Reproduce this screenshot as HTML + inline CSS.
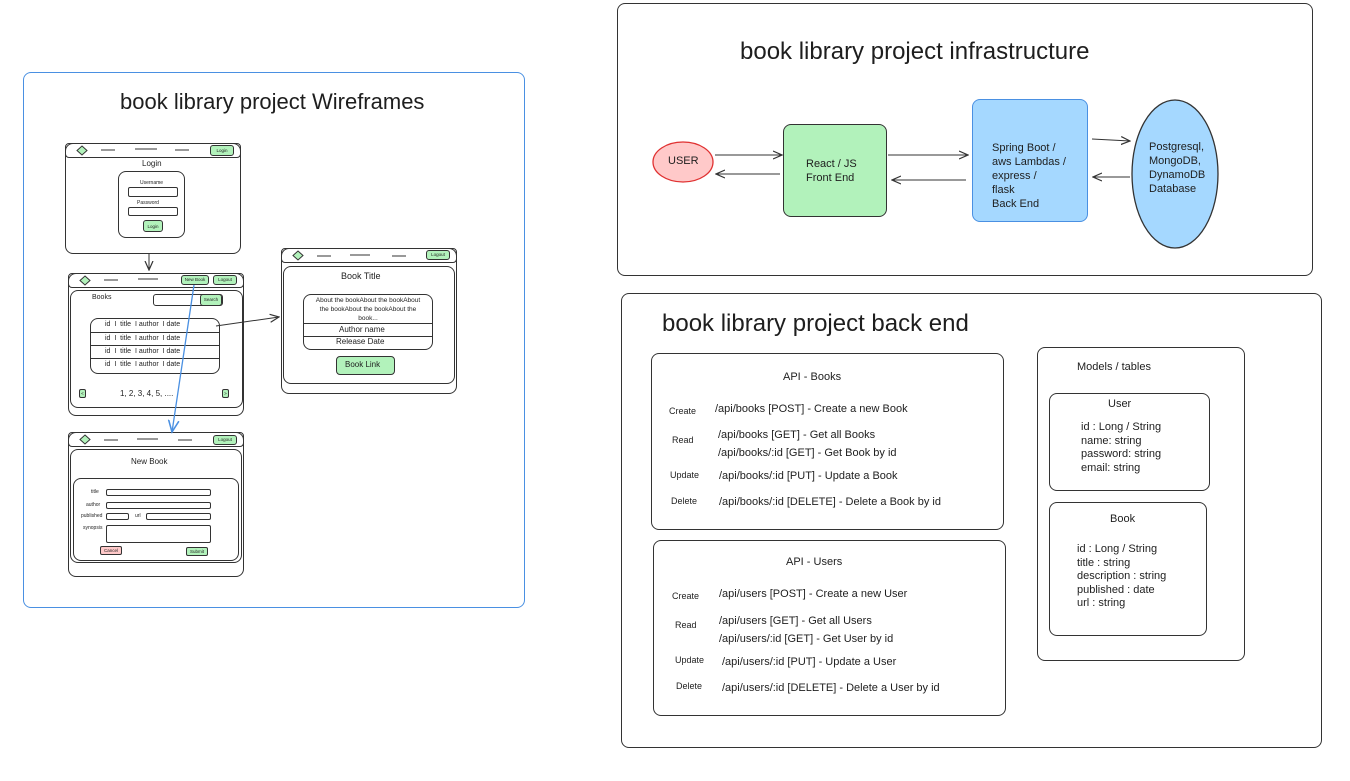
<!DOCTYPE html>
<html><head><meta charset="utf-8"><style>
body{margin:0;width:1350px;height:781px;background:#fff;position:relative;overflow:hidden;font-family:"Liberation Sans",sans-serif;color:#1e1e1e}
.b{position:absolute;border:1.3px solid #333;border-radius:8px;box-sizing:border-box}
.t{position:absolute;white-space:nowrap}
.g{background:#b2f2bb}
.s{font-size:11px}
.xs{font-size:5px}
.bl{font-size:4.5px;text-align:center;line-height:9px}
</style></head><body>
<svg width="1350" height="781" style="position:absolute;left:0;top:0">
<defs><marker id="a" markerWidth="10" markerHeight="10" refX="9" refY="5" orient="auto"><path d="M0,1 L9,5 L0,9" fill="none" stroke="#333" stroke-width="1.2"/></marker>
<marker id="ab" markerWidth="10" markerHeight="10" refX="9" refY="5" orient="auto"><path d="M0,1 L9,5 L0,9" fill="none" stroke="#4a90e2" stroke-width="1.2"/></marker></defs>
<line x1="149" y1="254" x2="149" y2="270" stroke="#333" marker-end="url(#a)"/>
<line x1="216" y1="326" x2="279" y2="317" stroke="#333" marker-end="url(#a)"/>
<line x1="715" y1="155" x2="782" y2="155" stroke="#333" marker-end="url(#a)"/>
<line x1="780" y1="174" x2="716" y2="174" stroke="#333" marker-end="url(#a)"/>
<line x1="888" y1="155" x2="968" y2="155" stroke="#333" marker-end="url(#a)"/>
<line x1="966" y1="180" x2="892" y2="180" stroke="#333" marker-end="url(#a)"/>
<line x1="1092" y1="139" x2="1130" y2="141" stroke="#333" marker-end="url(#a)"/>
<line x1="1130" y1="177" x2="1093" y2="177" stroke="#333" marker-end="url(#a)"/>
<ellipse cx="683" cy="162" rx="30" ry="20" fill="#ffc9c9" stroke="#e03131" stroke-width="1.3"/>
<ellipse cx="1175" cy="174" rx="43" ry="74" fill="#a5d8ff" stroke="#333" stroke-width="1.3"/>
</svg>

<!-- wireframes -->
<div class="b" style="left:23px;top:72px;width:502px;height:536px;border-color:#4a90e2"></div>
<div class="t" style="left:120px;top:89px;font-size:22px">book library project Wireframes</div>

<div class="b" style="left:65px;top:143px;width:176px;height:111px"></div>
<div class="b" style="left:65px;top:143px;width:176px;height:15px;border-radius:4px"></div>
<div class="b g bl" style="left:210px;top:145px;width:24px;height:11px;border-radius:3px">Login</div>
<div class="t" style="left:142px;top:159px;font-size:8px">Login</div>
<div class="b" style="left:118px;top:171px;width:67px;height:67px"></div>
<div class="t xs" style="left:140px;top:180px">Username</div>
<div class="b" style="left:128px;top:187px;width:50px;height:10px;border-radius:2px"></div>
<div class="t xs" style="left:137px;top:200px">Password</div>
<div class="b" style="left:128px;top:207px;width:50px;height:9px;border-radius:2px"></div>
<div class="b g bl" style="left:143px;top:220px;width:20px;height:12px;border-radius:3px;line-height:11px">Login</div>

<div class="b" style="left:68px;top:273px;width:176px;height:143px"></div>
<div class="b" style="left:68px;top:273px;width:176px;height:15px;border-radius:4px"></div>
<div class="b g bl" style="left:181px;top:275px;width:28px;height:10px;border-radius:3px;line-height:8px">New Book</div>
<div class="b g bl" style="left:213px;top:275px;width:24px;height:10px;border-radius:3px;line-height:8px">Logout</div>
<div class="b" style="left:70px;top:290px;width:173px;height:118px"></div>
<div class="t" style="left:92px;top:294px;font-size:7px">Books</div>
<div class="b" style="left:153px;top:294px;width:70px;height:12px;border-radius:3px"></div>
<div class="b g bl" style="left:200px;top:294px;width:22px;height:12px;border-radius:3px;line-height:10px">Search</div>
<div class="b" style="left:90px;top:318px;width:130px;height:56px"></div>
<div style="position:absolute;left:90px;top:332px;width:130px;border-top:1px solid #333"></div>
<div style="position:absolute;left:90px;top:345px;width:130px;border-top:1px solid #333"></div>
<div style="position:absolute;left:90px;top:358px;width:130px;border-top:1px solid #333"></div>
<div class="t" style="left:105px;top:321px;font-size:7px">id &nbsp;I&nbsp; title &nbsp;I author &nbsp;I date</div>
<div class="t" style="left:105px;top:335px;font-size:7px">id &nbsp;I&nbsp; title &nbsp;I author &nbsp;I date</div>
<div class="t" style="left:105px;top:348px;font-size:7px">id &nbsp;I&nbsp; title &nbsp;I author &nbsp;I date</div>
<div class="t" style="left:105px;top:361px;font-size:7px">id &nbsp;I&nbsp; title &nbsp;I author &nbsp;I date</div>
<div class="b g bl" style="left:79px;top:389px;width:7px;height:9px;border-radius:2px;line-height:7px">&lt;</div>
<div class="b g bl" style="left:222px;top:389px;width:7px;height:9px;border-radius:2px;line-height:7px">&gt;</div>
<div class="t" style="left:120px;top:389px;font-size:8px">1, 2, 3, 4, 5, ....</div>

<div class="b" style="left:281px;top:248px;width:176px;height:146px"></div>
<div class="b" style="left:281px;top:248px;width:176px;height:15px;border-radius:4px"></div>
<div class="b g bl" style="left:426px;top:250px;width:24px;height:10px;border-radius:3px;line-height:8px">Logout</div>
<div class="b" style="left:283px;top:266px;width:172px;height:118px"></div>
<div class="t" style="left:341px;top:271px;font-size:9px">Book Title</div>
<div class="b" style="left:303px;top:294px;width:130px;height:56px"></div>
<div style="position:absolute;left:303px;top:323px;width:130px;border-top:1px solid #333"></div>
<div style="position:absolute;left:303px;top:336px;width:130px;border-top:1px solid #333"></div>
<div class="t" style="left:313px;top:296px;font-size:6.5px;line-height:9px;text-align:center;width:110px;white-space:normal">About the bookAbout the bookAbout the bookAbout the bookAbout the book...</div>
<div class="t" style="left:339px;top:325px;font-size:8px">Author name</div>
<div class="t" style="left:336px;top:337px;font-size:8px">Release Date</div>
<div class="b g" style="left:336px;top:356px;width:59px;height:19px;border-radius:4px"></div>
<div class="t" style="left:345px;top:360px;font-size:8px">Book Link</div>

<div class="b" style="left:68px;top:432px;width:176px;height:145px"></div>
<div class="b" style="left:68px;top:432px;width:176px;height:15px;border-radius:4px"></div>
<div class="b g bl" style="left:213px;top:435px;width:24px;height:10px;border-radius:3px;line-height:8px">Logout</div>
<div class="b" style="left:70px;top:449px;width:172px;height:114px"></div>
<div class="t" style="left:131px;top:457px;font-size:8px">New Book</div>
<div class="b" style="left:73px;top:478px;width:166px;height:83px"></div>
<div class="t xs" style="left:91px;top:489px">title</div>
<div class="t xs" style="left:86px;top:502px">author</div>
<div class="t xs" style="left:81px;top:513px">published</div>
<div class="t xs" style="left:135px;top:513px">url</div>
<div class="t xs" style="left:83px;top:525px">synopsis</div>
<div class="b" style="left:106px;top:489px;width:105px;height:7px;border-radius:2px"></div>
<div class="b" style="left:106px;top:502px;width:105px;height:7px;border-radius:2px"></div>
<div class="b" style="left:106px;top:513px;width:23px;height:7px;border-radius:2px"></div>
<div class="b" style="left:146px;top:513px;width:65px;height:7px;border-radius:2px"></div>
<div class="b" style="left:106px;top:525px;width:105px;height:18px;border-radius:2px"></div>
<div class="b bl" style="left:100px;top:546px;width:22px;height:9px;border-radius:2px;background:#ffc9c9;line-height:7px">Cancel</div>
<div class="b g bl" style="left:186px;top:547px;width:22px;height:9px;border-radius:2px;line-height:7px">Submit</div>
<svg width="1350" height="781" style="position:absolute;left:0;top:0">
<g fill="#b2f2bb" stroke="#333" stroke-width="1">
<path d="M82,146 L87,150.5 L82,155 L77,150.5Z"/>
<path d="M85,276 L90,280.5 L85,285 L80,280.5Z"/>
<path d="M298,251 L303,255.5 L298,260 L293,255.5Z"/>
<path d="M85,435 L90,439.5 L85,444 L80,439.5Z"/>
</g>
<g stroke="#333" stroke-width="1">
<line x1="101" y1="150" x2="115" y2="150"/><line x1="135" y1="149" x2="157" y2="149"/><line x1="175" y1="150" x2="189" y2="150"/>
<line x1="104" y1="280" x2="118" y2="280"/><line x1="138" y1="279" x2="158" y2="279"/>
<line x1="317" y1="256" x2="331" y2="256"/><line x1="350" y1="255" x2="370" y2="255"/><line x1="392" y1="256" x2="406" y2="256"/>
<line x1="104" y1="440" x2="118" y2="440"/><line x1="137" y1="439" x2="158" y2="439"/><line x1="178" y1="440" x2="192" y2="440"/>
</g>
<line x1="194" y1="285" x2="172" y2="432" stroke="#4a90e2" stroke-width="1.3" marker-end="url(#ab)"/></svg>

<!-- infrastructure -->
<div class="b" style="left:617px;top:3px;width:696px;height:273px"></div>
<div class="t" style="left:740px;top:38px;font-size:24px">book library project infrastructure</div>
<div class="t s" style="left:668px;top:155px">USER</div>
<div class="b g" style="left:783px;top:124px;width:104px;height:93px"></div>
<div class="t s" style="left:806px;top:157px;line-height:14px">React / JS<br>Front End</div>
<div class="b" style="left:972px;top:99px;width:116px;height:123px;background:#a5d8ff;border-color:#4a90e2"></div>
<div class="t s" style="left:992px;top:141px;line-height:14px">Spring Boot /<br>aws Lambdas /<br>express /<br>flask<br>Back End</div>
<div class="t s" style="left:1149px;top:140px;line-height:14px">Postgresql,<br>MongoDB,<br>DynamoDB<br>Database</div>

<!-- back end -->
<div class="b" style="left:621px;top:293px;width:701px;height:455px"></div>
<div class="t" style="left:662px;top:310px;font-size:24px">book library project back end</div>

<div class="b" style="left:651px;top:353px;width:353px;height:177px"></div>
<div class="t s" style="left:783px;top:371px">API - Books</div>
<div class="t" style="left:669px;top:406px;font-size:9px">Create</div>
<div class="t s" style="left:715px;top:403px">/api/books [POST] - Create a new Book</div>
<div class="t" style="left:672px;top:435px;font-size:9px">Read</div>
<div class="t s" style="left:718px;top:429px">/api/books [GET] - Get all Books</div>
<div class="t s" style="left:718px;top:447px">/api/books/:id [GET] - Get Book by id</div>
<div class="t" style="left:670px;top:470px;font-size:9px">Update</div>
<div class="t s" style="left:719px;top:470px">/api/books/:id [PUT] - Update a Book</div>
<div class="t" style="left:671px;top:496px;font-size:9px">Delete</div>
<div class="t s" style="left:719px;top:496px">/api/books/:id [DELETE] - Delete a Book by id</div>

<div class="b" style="left:653px;top:540px;width:353px;height:176px"></div>
<div class="t s" style="left:786px;top:556px">API - Users</div>
<div class="t" style="left:672px;top:591px;font-size:9px">Create</div>
<div class="t s" style="left:719px;top:588px">/api/users [POST] - Create a new User</div>
<div class="t" style="left:675px;top:620px;font-size:9px">Read</div>
<div class="t s" style="left:719px;top:615px">/api/users [GET] - Get all Users</div>
<div class="t s" style="left:719px;top:633px">/api/users/:id [GET] - Get User by id</div>
<div class="t" style="left:675px;top:655px;font-size:9px">Update</div>
<div class="t s" style="left:722px;top:656px">/api/users/:id [PUT] - Update a User</div>
<div class="t" style="left:676px;top:681px;font-size:9px">Delete</div>
<div class="t s" style="left:722px;top:682px">/api/users/:id [DELETE] - Delete a User by id</div>

<div class="b" style="left:1037px;top:347px;width:208px;height:314px"></div>
<div class="t s" style="left:1077px;top:361px">Models / tables</div>
<div class="b" style="left:1049px;top:393px;width:161px;height:98px"></div>
<div class="t s" style="left:1108px;top:398px">User</div>
<div class="t s" style="left:1081px;top:421px;line-height:13.5px">id : Long / String<br>name: string<br>password: string<br>email: string</div>
<div class="b" style="left:1049px;top:502px;width:158px;height:134px"></div>
<div class="t s" style="left:1110px;top:513px">Book</div>
<div class="t s" style="left:1077px;top:543px;line-height:13.5px">id : Long / String<br>title : string<br>description : string<br>published : date<br>url : string</div>
</body></html>
